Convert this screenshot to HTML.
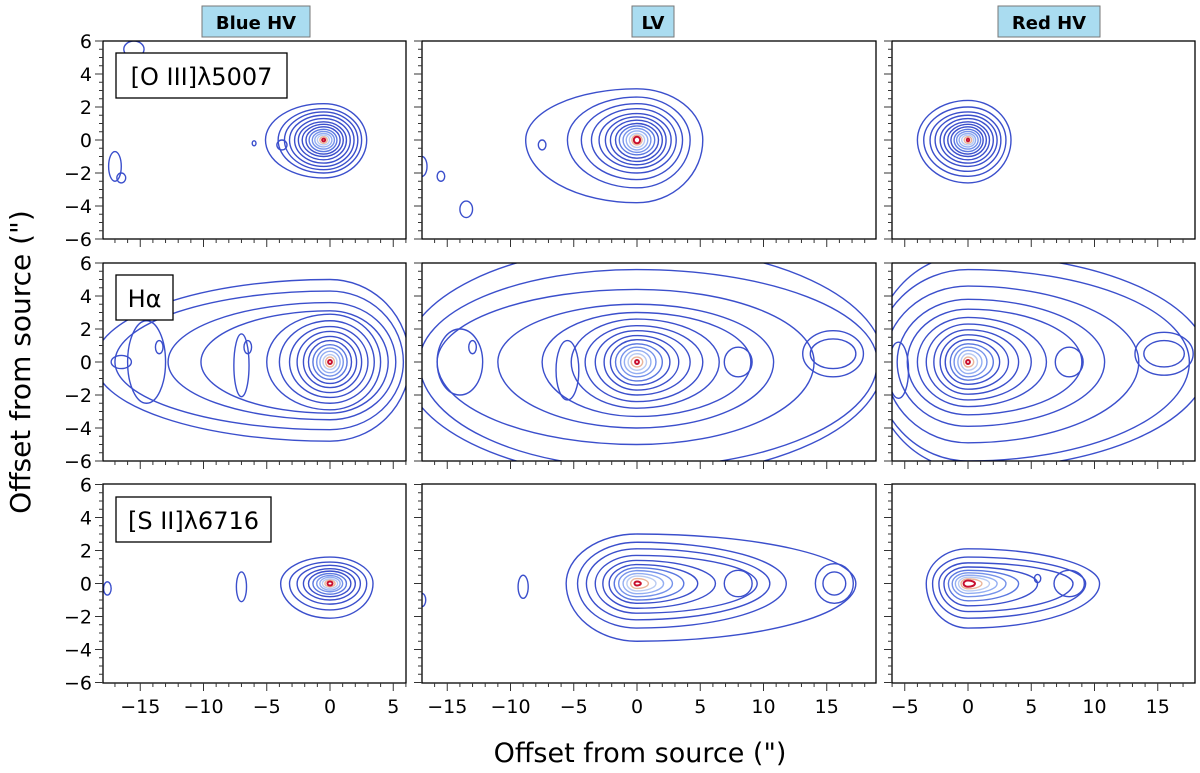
<!DOCTYPE html>
<html><head><meta charset="utf-8"><style>
html,body{margin:0;padding:0;background:#fff;}
svg{display:block;font-family:"DejaVu Sans","Liberation Sans",sans-serif;}
</style></head><body>
<svg id="fig" width="1200" height="773" viewBox="0 0 1200 773" xmlns="http://www.w3.org/2000/svg"></svg>
<script>
// ---- data ----
const colTitles = ["Blue HV","LV","Red HV"];
const rowLabels = ["[O III]\u03bb5007","H\u03b1","[S II]\u03bb6716"];
const yTicks = [6,4,2,0,-2,-4,-6];
const xTicksC1 = [-15,-10,-5,0,5];
const xTicksC2 = [-15,-10,-5,0,5,10,15];
const xTicksC3 = [-5,0,5,10,15];
// contour half-extents (arcsec) from outermost to innermost: left, right, up, down
const o1L=[4.6,3.6,3.1,2.7,2.3,2.0,1.7,1.4,1.15,0.9,0.7,0.5,0.3,0.12];
const o1R=[3.4,3.0,2.7,2.4,2.1,1.8,1.55,1.3,1.05,0.85,0.65,0.45,0.28,0.12];
const o1U=[2.2,1.9,1.7,1.5,1.3,1.1,0.95,0.8,0.65,0.52,0.4,0.3,0.2,0.08];
const o1D=[2.3,2.0,1.8,1.6,1.4,1.2,1.0,0.85,0.7,0.55,0.42,0.3,0.2,0.08];
const o2L=[8.8,5.5,4.4,3.6,3.0,2.5,2.1,1.7,1.4,1.1,0.85,0.6,0.4,0.25];
const o2R=[5.2,4.2,3.6,3.1,2.7,2.3,2.0,1.7,1.4,1.1,0.85,0.6,0.4,0.25];
const o2U=[3.1,2.6,2.2,1.9,1.6,1.4,1.2,1.0,0.85,0.7,0.55,0.4,0.3,0.2];
const o2D=[3.8,2.9,2.4,2.0,1.7,1.5,1.3,1.1,0.9,0.75,0.6,0.45,0.3,0.2];
const o3L=[4.0,3.5,3.0,2.6,2.2,1.9,1.6,1.35,1.1,0.9,0.7,0.5,0.3,0.1];
const o3R=[3.4,3.0,2.6,2.3,2.0,1.7,1.45,1.2,1.0,0.8,0.6,0.45,0.3,0.1];
const o3U=[2.4,2.0,1.7,1.5,1.3,1.1,0.95,0.8,0.65,0.52,0.4,0.3,0.2,0.08];
const o3D=[2.6,2.2,1.9,1.6,1.4,1.2,1.0,0.85,0.7,0.55,0.42,0.3,0.2,0.08];
const h1L=[18.6,17.0,12.8,10.2,5.0,4.0,3.2,2.6,2.1,1.7,1.35,1.05,0.8,0.55,0.35,0.15];
const h1R=[6.3,5.8,5.2,4.6,4.0,3.5,3.0,2.5,2.1,1.7,1.35,1.05,0.8,0.55,0.35,0.15];
const h1U=[5.0,4.3,3.6,3.1,2.9,2.5,2.15,1.85,1.55,1.3,1.05,0.85,0.65,0.45,0.3,0.12];
const h1D=[4.8,4.1,3.5,3.1,2.9,2.5,2.15,1.85,1.55,1.3,1.05,0.85,0.65,0.45,0.3,0.12];
const h2L=[18.5,17.2,15.8,11.0,7.5,5.2,4.1,3.3,2.6,2.1,1.7,1.3,1.0,0.7,0.45,0.15];
const h2R=[19.5,19.0,14.0,10.8,9.0,6.5,5.2,4.2,3.3,2.6,2.0,1.5,1.1,0.75,0.45,0.15];
const h2U=[7.0,5.6,4.4,3.5,3.0,2.6,2.2,1.9,1.6,1.35,1.1,0.9,0.7,0.5,0.3,0.12];
const h2D=[7.0,6.4,5.0,4.0,3.3,2.8,2.4,2.0,1.7,1.4,1.15,0.9,0.7,0.5,0.3,0.12];
const h3L=[7.6,7.4,6.6,5.6,4.8,4.0,3.3,2.7,2.2,1.8,1.4,1.1,0.8,0.55,0.35,0.15];
const h3R=[19.0,17.5,13.5,10.8,9.0,6.2,5.0,4.0,3.2,2.5,2.0,1.5,1.1,0.75,0.45,0.15];
const h3U=[6.5,5.6,4.6,3.8,3.2,2.7,2.3,1.95,1.65,1.35,1.1,0.9,0.7,0.5,0.3,0.12];
const h3D=[6.5,6.0,4.9,3.9,3.2,2.7,2.3,1.95,1.65,1.35,1.1,0.9,0.7,0.5,0.3,0.12];
const s1L=[3.9,3.2,2.6,2.1,1.7,1.35,1.05,0.8,0.6,0.4,0.2];
const s1R=[3.4,2.9,2.4,2.0,1.65,1.3,1.0,0.8,0.6,0.4,0.2];
const s1U=[1.6,1.3,1.1,0.9,0.75,0.6,0.48,0.38,0.28,0.2,0.12];
const s1D=[2.1,1.6,1.25,1.0,0.8,0.65,0.5,0.4,0.3,0.2,0.12];
const s2L=[5.6,4.7,4.0,3.3,2.7,2.2,1.8,1.45,1.1,0.8,0.5,0.2];
const s2R=[17.3,11.8,10.5,9.5,6.2,4.8,3.7,2.8,2.1,1.5,0.9,0.3];
const s2U=[3.0,2.5,2.1,1.7,1.4,1.15,0.95,0.78,0.6,0.45,0.3,0.12];
const s2D=[3.5,2.7,2.2,1.8,1.5,1.2,1.0,0.8,0.62,0.45,0.3,0.12];
const s3L=[3.3,2.8,2.3,1.9,1.55,1.25,1.0,0.75,0.55,0.35];
const s3R=[10.4,9.3,8.3,5.5,4.0,3.0,2.3,1.7,1.1,0.55];
const s3U=[2.1,1.6,1.25,1.0,0.8,0.65,0.5,0.38,0.28,0.18];
const s3D=[2.7,2.1,1.7,1.35,1.05,0.8,0.6,0.45,0.32,0.2];
// secondary knots / islands: x, y, rx, ry per panel
const knotsX = [[-17.0,-16.5,-15.5,-3.8,-6.0],[-17.0,-15.5,-13.5,-7.5],[],
  [-14.5,-13.5,-7.0,-6.5,-16.5],[8.0,15.5,15.5,-5.5,-14.0,-13.0],[8.0,15.5,15.5,-5.5],
  [-7.0,-17.6],[8.0,15.6,15.6,-9.0,-17.0],[8.0,5.5]];
const knotsY = [[-1.6,-2.3,5.5,-0.3,-0.2],[-1.6,-2.2,-4.2,-0.3],[],
  [0.0,0.9,-0.2,0.9,0.0],[0.0,0.5,0.5,-0.5,0.0,0.9],[0.0,0.5,0.5,-0.5],
  [-0.2,-0.3],[0.0,0.0,0.0,-0.2,-1.0],[0.0,0.3]];
const knotsRX = [[0.5,0.35,0.8,0.4,0.15],[0.4,0.3,0.5,0.3],[],
  [1.5,0.3,0.6,0.3,0.8],[1.1,2.4,1.8,0.9,1.8,0.3],[1.1,2.3,1.6,0.8],
  [0.4,0.3],[1.1,1.5,0.9,0.4,0.3],[1.2,0.25]];
const knotsRY = [[0.9,0.3,0.5,0.3,0.15],[0.6,0.3,0.5,0.3],[],
  [2.5,0.4,1.9,0.4,0.4],[0.9,1.4,0.9,1.8,2.0,0.4],[0.9,1.3,0.8,1.7],
  [0.9,0.4],[0.8,1.2,0.7,0.7,0.4],[0.8,0.25]];
// panel centres (arcsec)
const centX = [-0.5,0,0, 0,0,0, 0,0,0];
const centY = [0,0,0, 0,0,0, 0,0,0];

// ---- layout ----
const colPx = [{l:103,r:406,zero:330},{l:422,r:876,zero:637},{l:892,r:1195,zero:968}];
const rowPx = [{t:41,b:239},{t:263,b:461},{t:484,b:683}];
const pxX = 12.65, pxY = 16.5;
const svg = document.getElementById('fig');
const NS = "http://www.w3.org/2000/svg";
function mk(tag, attrs, parent){const e=document.createElementNS(NS,tag);for(const k in attrs)e.setAttribute(k,attrs[k]);(parent||svg).appendChild(e);return e;}

const contourSets = [[o1L,o1R,o1U,o1D],[o2L,o2R,o2U,o2D],[o3L,o3R,o3U,o3D],
 [h1L,h1R,h1U,h1D],[h2L,h2R,h2U,h2D],[h3L,h3R,h3U,h3D],
 [s1L,s1R,s1U,s1D],[s2L,s2R,s2U,s2D],[s3L,s3R,s3U,s3D]];
function levelColor(idx,n){
  const fromIn = n-1-idx;
  if(fromIn===0) return '#c8102e';
  if(fromIn===1) return '#eab59a';
  if(fromIn===2) return '#b9cbf2';
  if(fromIn===3) return '#93aef2';
  if(fromIn===4) return '#7592ea';
  if(fromIn===5) return '#5a77e0';
  return '#3b4fcc';
}
const defs = mk('defs',{});
for(let r=0;r<3;r++){
  for(let c=0;c<3;c++){
    const i=r*3+c, C=colPx[c], R=rowPx[r];
    const X = v => C.zero + v*pxX;
    const Y = v => (R.t+R.b)/2 - v*pxY;
    const g = mk('g',{});
    
    
    const cp = mk('clipPath',{id:'cp'+i},defs);
    mk('rect',{x:C.l,y:R.t,width:C.r-C.l,height:R.b-R.t},cp);
    const cg = mk('g',{'clip-path':'url(#cp'+i+')'},g);
    
    
    const [L,Rr,U,D] = contourSets[i];
    const n=L.length, cx=X(centX[i]), cy=Y(centY[i]);
    for(let k=0;k<n;k++){
      const l=L[k]*pxX, rr=Rr[k]*pxX, u=U[k]*pxY, d=D[k]*pxY;
      const p = `M${cx+rr},${cy} A${rr},${u} 0 0 0 ${cx},${cy-u} A${l},${u} 0 0 0 ${cx-l},${cy} A${l},${d} 0 0 0 ${cx},${cy+d} A${rr},${d} 0 0 0 ${cx+rr},${cy} Z`;
      const pe = mk('path',{d:p,fill:'none',stroke:levelColor(k,n),'stroke-width':(n-1-k===0)?2:1.4},cg);
      
      
    }
    for(let k=0;k<knotsX[i].length;k++){
      const e = mk('ellipse',{cx:X(knotsX[i][k]),cy:Y(knotsY[i][k]),rx:knotsRX[i][k]*pxX,ry:knotsRY[i][k]*pxY,fill:'none',stroke:'#3b4fcc','stroke-width':1.4},cg);
      
      
    }
    const fr = mk('rect',{x:C.l,y:R.t,width:C.r-C.l,height:R.b-R.t,fill:'none',stroke:'#000','stroke-width':1.3},g);
    
    
    for(let v=-6;v<=6.001;v+=0.5){
      const major = Math.abs(v%2)<1e-6;
      mk('line',{x1:C.l,x2:C.l-(major?8:4),y1:Y(v),y2:Y(v),stroke:'#333','stroke-width':1},g);
    }
    const xmin=Math.ceil((C.l-C.zero)/pxX), xmax=Math.floor((C.r-C.zero)/pxX);
    for(let v=xmin;v<=xmax;v++){
      const major = v%5===0;
      mk('line',{x1:X(v),x2:X(v),y1:R.b,y2:R.b+(major?8:4),stroke:'#333','stroke-width':1},g);
    }
    if(c===0){
      yTicks.forEach(v=>{
        const t=mk('text',{x:C.l-11,y:Y(v)+7,'text-anchor':'end','font-size':19},g);
        t.textContent=String(v).replace('-','\u2212');
        
        
      });
    }
    if(r===2){
      const tk=[xTicksC1,xTicksC2,xTicksC3][c];
      tk.forEach(v=>{
        const t=mk('text',{x:X(v),y:R.b+30,'text-anchor':'middle','font-size':19},g);
        t.textContent=String(v).replace('-','\u2212');
        
        
      });
    }
  }
}
const boxes=[{x:116,y:53,w:171,h:45},{x:116,y:275,w:57,h:45},{x:116,y:497,w:155,h:45}];
rowLabels.forEach((s,k)=>{
  const b=boxes[k];
  const g=mk('g',{});
  
  
  mk('rect',{x:b.x,y:b.y,width:b.w,height:b.h,fill:'#fff',stroke:'#000','stroke-width':1.3},g);
  const t=mk('text',{x:b.x+b.w/2,y:b.y+32,'text-anchor':'middle','font-size':24},g);
  t.textContent=s;
});
const hdr=[{x:202,w:108},{x:632,w:42},{x:998,w:102}];
colTitles.forEach((s,k)=>{
  const h=hdr[k];
  const g=mk('g',{});
  
  
  mk('rect',{x:h.x,y:6,width:h.w,height:31,fill:'#aadcf0',stroke:'#777','stroke-width':1},g);
  const t=mk('text',{x:h.x+h.w/2,y:29,'text-anchor':'middle','font-size':18,'font-weight':'bold'},g);
  t.textContent=s;
});
const xt=mk('text',{x:640,y:762,'text-anchor':'middle','font-size':27});
xt.textContent='Offset from source (")';


const yt=mk('text',{x:0,y:0,'text-anchor':'middle','font-size':28,transform:'translate(30,362) rotate(-90)'});
yt.textContent='Offset from source (")';


</script>
</body></html>
